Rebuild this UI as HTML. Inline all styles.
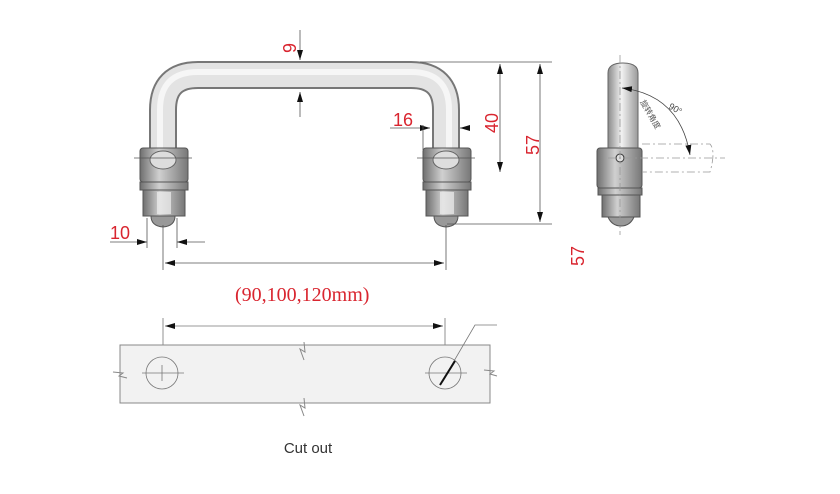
<!DOCTYPE html>
<html><head><meta charset="utf-8"><style>
html,body{margin:0;padding:0;background:#fff;width:840px;height:494px;overflow:hidden}
svg{display:block}
.r{fill:#d9252f;font-family:"Liberation Sans",sans-serif;font-size:18px}
</style></head><body>
<svg width="840" height="494" viewBox="0 0 840 494" xmlns="http://www.w3.org/2000/svg">
<defs>
<linearGradient id="gv" x1="0" x2="1" y1="0" y2="0">
<stop offset="0" stop-color="#8a8a8a"/><stop offset=".45" stop-color="#f2f2f2"/><stop offset="1" stop-color="#9a9a9a"/></linearGradient>
<linearGradient id="gb" x1="0" x2="1" y1="0" y2="0">
<stop offset="0" stop-color="#6f6f6f"/><stop offset=".4" stop-color="#d0d0d0"/><stop offset="1" stop-color="#777"/></linearGradient>
<marker id="a" viewBox="0 0 10 6" refX="10" refY="3" markerWidth="10" markerHeight="6" orient="auto-start-reverse" markerUnits="userSpaceOnUse"><path d="M0,0L10,3L0,6z" fill="#111"/></marker>
</defs>
<path d="M163,152 V110 Q163,75 198,75 H411 Q446,75 446,110 V152" fill="none" stroke="#777" stroke-width="28"/>
<path d="M163,152 V110 Q163,75 198,75 H411 Q446,75 446,110 V152" fill="none" stroke="#e3e3e3" stroke-width="24"/>
<path d="M160,152 V110 Q160,72 198,72 H411 Q449,72 449,110 V152" fill="none" stroke="#fafafa" stroke-width="6" opacity=".8"/>
<g id="leg">
<rect x="140" y="148" width="48" height="34" rx="3" fill="url(#gb)" stroke="#555"/>
<ellipse cx="163" cy="160" rx="13" ry="9" fill="#ddd" stroke="#666"/>
<rect x="140" y="182" width="48" height="8" fill="url(#gb)" stroke="#555"/>
<rect x="143" y="190" width="42" height="26" fill="url(#gb)" stroke="#555"/>
<rect x="157" y="192" width="14" height="22" fill="#eee" opacity=".7"/>
<path d="M151,216 Q151,226 163,227 Q175,226 175,216z" fill="#999" stroke="#555"/>
</g>
<use href="#leg" transform="translate(283,0)"/>
<g stroke="#555" stroke-width="0.8" fill="none">
<line x1="300" y1="30" x2="300" y2="60" marker-end="url(#a)"/>
<line x1="300" y1="117" x2="300" y2="92" marker-end="url(#a)"/>
<line x1="420" y1="62" x2="552" y2="62"/>
<line x1="447" y1="224" x2="552" y2="224"/>
<line x1="500" y1="64" x2="500" y2="172" marker-start="url(#a)" marker-end="url(#a)"/>
<line x1="540" y1="64" x2="540" y2="222" marker-start="url(#a)" marker-end="url(#a)"/>
<line x1="390" y1="128" x2="430" y2="128" marker-end="url(#a)"/>
<line x1="468" y1="128" x2="460" y2="128" marker-end="url(#a)"/>
<line x1="423" y1="125" x2="423" y2="150"/>
<line x1="110" y1="242" x2="147" y2="242" marker-end="url(#a)"/>
<line x1="205" y1="242" x2="177" y2="242" marker-end="url(#a)"/>
<line x1="147" y1="218" x2="147" y2="248"/><line x1="177" y1="218" x2="177" y2="248"/>
<line x1="163" y1="225" x2="163" y2="270"/><line x1="446" y1="225" x2="446" y2="270"/>
<line x1="165" y1="263" x2="444" y2="263" marker-start="url(#a)" marker-end="url(#a)"/>
<line x1="134" y1="158" x2="192" y2="158"/><line x1="417" y1="158" x2="475" y2="158"/>
</g>
<text class="r" transform="translate(296,48) rotate(-90)" text-anchor="middle">9</text>
<text class="r" x="393" y="126">16</text>
<text class="r" transform="translate(498,123) rotate(-90)" text-anchor="middle">40</text>
<text class="r" transform="translate(539,145) rotate(-90)" text-anchor="middle">57</text>
<text class="r" x="110" y="239">10</text>
<text class="r" transform="translate(584,256) rotate(-90)" text-anchor="middle">57</text>
<text x="235" y="301" fill="#d9252f" font-family="Liberation Serif,serif" font-size="20">(90,100,120mm)</text>
<path d="M608,150 V73 Q608,63 623,63 Q638,63 638,73 V150z" fill="url(#gv)" stroke="#666"/>
<rect x="597" y="148" width="45" height="40" rx="3" fill="url(#gb)" stroke="#555"/>
<circle cx="620" cy="158" r="4" fill="#ddd" stroke="#333"/>
<rect x="598" y="188" width="44" height="7" fill="url(#gb)" stroke="#555"/>
<rect x="602" y="195" width="38" height="22" fill="url(#gb)" stroke="#555"/>
<path d="M608,217 Q612,226 621,226 Q630,226 634,217z" fill="#999" stroke="#555"/>
<g stroke="#999" stroke-width="0.8" fill="none" stroke-dasharray="8,3,2,3">
<path d="M642,144 H710 Q716,151 710,172 H642"/>
<line x1="608" y1="158" x2="725" y2="158"/>
<line x1="620" y1="55" x2="620" y2="235"/>
</g>
<path d="M622,88 Q680,95 690,155" fill="none" stroke="#444" stroke-width="0.8" marker-start="url(#a)" marker-end="url(#a)"/>
<text x="668" y="108" font-family="Liberation Sans,sans-serif" font-size="9" fill="#444" transform="rotate(30 668 108)">90°</text>
<text x="640" y="102" font-family="Liberation Sans,'Noto Sans CJK SC',sans-serif" font-size="8" fill="#555" transform="rotate(60 640 102)">旋转角度</text>
<g stroke="#777" stroke-width="0.8" fill="none">
<line x1="163" y1="318" x2="163" y2="395"/><line x1="445" y1="318" x2="445" y2="395"/>
<line x1="165" y1="326" x2="443" y2="326" marker-start="url(#a)" marker-end="url(#a)"/>
</g>
<rect x="120" y="345" width="370" height="58" fill="#f2f2f2" stroke="#888" stroke-width="1"/>
<path d="M304,342 L305,352 L300,349 L304,360" fill="none" stroke="#888"/>
<path d="M304,398 L305,408 L300,405 L304,416" fill="none" stroke="#888"/>
<path d="M113,372 L123,373 L119,376 L127,378" fill="none" stroke="#888"/>
<path d="M484,370 L494,371 L490,374 L497,376" fill="none" stroke="#888"/>
<g stroke="#777" stroke-width="0.8" fill="none">
<circle cx="162" cy="373" r="16"/><circle cx="445" cy="373" r="16"/>
<line x1="142" y1="373" x2="184" y2="373"/><line x1="162" y1="365" x2="162" y2="381"/>
<line x1="425" y1="373" x2="467" y2="373"/>
<path d="M440,385 L475,325 H497"/>
</g>
<line x1="440" y1="385" x2="455" y2="361" stroke="#111" stroke-width="2"/>
<text x="308" y="453" text-anchor="middle" font-family="Liberation Sans,sans-serif" font-size="15" fill="#333">Cut out</text>
</svg>
</body></html>
